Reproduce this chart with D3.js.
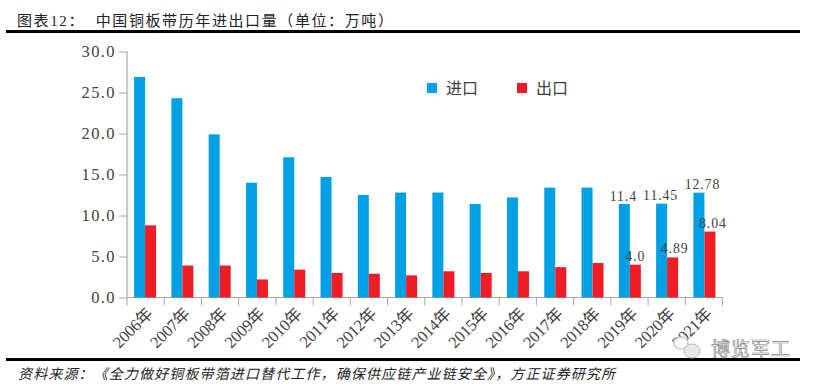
<!DOCTYPE html>
<html><head><meta charset="utf-8">
<script src="https://cdn.jsdelivr.net/npm/d3@7/dist/d3.min.js"></script>
<style>html,body{margin:0;padding:0;background:#fff}svg{display:block}text{font-family:"Liberation Serif","Noto Sans CJK SC",serif}</style>
</head><body><svg id="c" width="815" height="387"></svg>
<script>
const years=["2006年","2007年","2008年","2009年","2010年","2011年","2012年","2013年","2014年","2015年","2016年","2017年","2018年","2019年","2020年","2021年"];
const imports=[26.9,24.3,19.9,14.0,17.1,14.7,12.5,12.8,12.8,11.4,12.2,13.4,13.4,11.4,11.45,12.78];
const exports_=[8.8,3.9,3.9,2.2,3.4,3.0,2.9,2.7,3.2,3.0,3.2,3.7,4.2,4.0,4.89,8.04];
const importLabels={"2019年":"11.4","2020年":"11.45","2021年":"12.78"};
const exportLabels={"2019年":"4.0","2020年":"4.89","2021年":"8.04"};
const yTicks=[0,5,10,15,20,25,30];
const seriesNames=["进口","出口"];
const titleText="图表12：  中国铜板带历年进出口量（单位：万吨）";
const sourceText="资料来源：《全力做好铜板带箔进口替代工作，确保供应链产业链安全》，方正证券研究所";
const watermark="博览军工";

const svg=d3.select("#c");
const x=d3.scaleBand().domain(years).range([127,722.5]).paddingInner(0.41).paddingOuter(0.19);
const y=d3.scaleLinear().domain([0,30]).range([297.5,51.5]);
const blue="#00a0e4",red="#ee1c25",axisCol="#a6a6a6",txt="#404040";
const bw=x.bandwidth()/2;

svg.append("text").attr("x",17).attr("y",26).attr("font-size",15).attr("letter-spacing",1.6).attr("fill","#222").attr("xml:space","preserve").text(titleText);
svg.append("rect").attr("x",6).attr("y",30).attr("width",794).attr("height",3).attr("fill","#000");
svg.append("rect").attr("x",6).attr("y",358).attr("width",794).attr("height",3).attr("fill","#000");
svg.append("text").attr("x",18).attr("y",379).attr("font-size",14).attr("font-style","italic").attr("letter-spacing",1.13).attr("fill","#222").text(sourceText);

const yAxis=d3.axisLeft(y).tickValues(yTicks).tickFormat(d3.format(".1f")).tickSize(8).tickPadding(3);
const gy=svg.append("g").attr("transform","translate(127,0)").call(yAxis);
gy.select(".domain").attr("stroke",axisCol).attr("stroke-width",1.2).attr("d","M0,51.5V297.5");
gy.selectAll("line").attr("stroke",axisCol);
gy.selectAll("text").attr("font-size",16.5).attr("letter-spacing",1.4).attr("fill",txt).attr("font-family",'"Liberation Serif",serif');

const xAxis=d3.axisBottom(x).tickValues([]).tickSizeOuter(0);
const gx=svg.append("g").attr("transform","translate(0,297.5)").call(xAxis);
gx.select(".domain").attr("stroke",axisCol).attr("d","M127,0H722.5");
const tickX=d3.scaleLinear().domain([0,years.length]).range([127,722.5]);
gx.selectAll("line.t").data(d3.range(years.length+1)).join("line").attr("class","t")
 .attr("x1",i=>tickX(i)).attr("x2",i=>tickX(i))
 .attr("y1",0).attr("y2",8).attr("stroke",axisCol);

svg.append("g").selectAll("rect").data(years).join("rect")
 .attr("x",d=>x(d)).attr("width",bw).attr("y",(d,i)=>y(imports[i])).attr("height",(d,i)=>y(0)-y(imports[i])).attr("fill",blue);
svg.append("g").selectAll("rect").data(years).join("rect")
 .attr("x",d=>x(d)+bw).attr("width",bw).attr("y",(d,i)=>y(exports_[i])).attr("height",(d,i)=>y(0)-y(exports_[i])).attr("fill",red);

svg.append("g").selectAll("text").data(years).join("text")
 .attr("transform",d=>`translate(${x(d)+x.bandwidth()/2+6},${312}) rotate(-45)`)
 .attr("text-anchor","end").attr("dominant-baseline","middle").attr("font-size",16.5).attr("letter-spacing",-0.2).attr("fill",txt).text(d=>d);

const lab=svg.append("g").attr("font-size",13.8).attr("letter-spacing",0.9).attr("fill",txt).attr("text-anchor","middle");
const lastYear=years[years.length-1];
years.forEach((d,i)=>{
 if(importLabels[d]) lab.append("text").attr("x",x(d)+bw/2+(d===lastYear?3.5:-1)).attr("y",y(imports[i])-3.5).text(importLabels[d]);
 if(exportLabels[d]) lab.append("text").attr("x",x(d)+bw*1.5+(d==="2019年"?0:d==="2020年"?2:3)).attr("y",y(exports_[i])-4).text(exportLabels[d]);
});

const lg=svg.append("g");
[[blue,427],[red,517]].forEach(([c,lx],i)=>{
 lg.append("rect").attr("x",lx).attr("y",83).attr("width",10).attr("height",10).attr("fill",c);
 lg.append("text").attr("x",lx+19).attr("y",94).attr("font-size",16).attr("fill",txt).text(seriesNames[i]);
});

const wm=svg.append("g");
wm.append("ellipse").attr("cx",681).attr("cy",343).attr("rx",7).attr("ry",6).attr("fill","#fff").attr("stroke","#c8c8c8").attr("stroke-width",1.5);
wm.append("ellipse").attr("cx",692).attr("cy",351).attr("rx",8).attr("ry",7).attr("fill","#e8e8e8").attr("stroke","#bbb").attr("stroke-width",1);
wm.append("text").attr("x",711).attr("y",356).attr("font-size",19).attr("fill","#fff").attr("stroke","#888").attr("stroke-width",0.7).attr("letter-spacing",1).text(watermark);
</script></body></html>
